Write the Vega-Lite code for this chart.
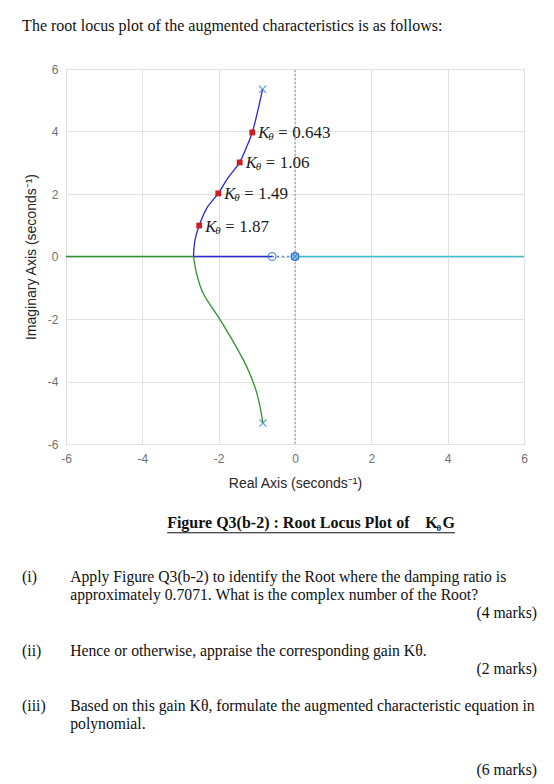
{
  "$schema": "https://vega.github.io/schema/vega-lite/v6.json",
  "width": 458,
  "height": 375,
  "autosize": {"type": "none"},
  "padding": {"left": 66, "top": 69, "right": 30, "bottom": 340},
  "background": "white",
  "config": {
    "view": {"stroke": "#7a7a7a", "strokeWidth": 1},
    "axis": {
      "labelFont": "Liberation Sans",
      "labelFontSize": 12,
      "labelColor": "#707070",
      "titleFont": "Liberation Sans",
      "titleFontSize": 14,
      "titleFontWeight": "normal",
      "titleColor": "#262626",
      "gridColor": "#e2e2e2",
      "gridOpacity": 1,
      "domain": false,
      "ticks": false,
      "labelExpr": "replace(datum.label, '−', '-')"
    }
  },
  "datasets": {
    "locus": [
      {"b": "blue", "seg": "b1", "o": 1, "x": -0.85, "y": 5.35},
      {"b": "blue", "seg": "b1", "o": 2, "x": -0.97, "y": 4.69},
      {"b": "blue", "seg": "b1", "o": 3, "x": -1.12, "y": 3.97},
      {"b": "blue", "seg": "b1", "o": 4, "x": -1.27, "y": 3.5},
      {"b": "blue", "seg": "b1", "o": 5, "x": -1.45, "y": 3.01},
      {"b": "blue", "seg": "b1", "o": 6, "x": -1.76, "y": 2.51},
      {"b": "blue", "seg": "b1", "o": 7, "x": -2.01, "y": 2.02},
      {"b": "blue", "seg": "b1", "o": 8, "x": -2.31, "y": 1.55},
      {"b": "blue", "seg": "b1", "o": 9, "x": -2.51, "y": 0.99},
      {"b": "blue", "seg": "b1", "o": 10, "x": -2.62, "y": 0.53},
      {"b": "blue", "seg": "b1", "o": 11, "x": -2.66, "y": 0},
      {"b": "blue", "seg": "b2", "o": 1, "x": -2.66, "y": 0},
      {"b": "blue", "seg": "b2", "o": 2, "x": -0.6, "y": 0},
      {"b": "green", "seg": "g1", "o": 1, "x": -6, "y": 0},
      {"b": "green", "seg": "g1", "o": 2, "x": -2.66, "y": 0},
      {"b": "green", "seg": "g2", "o": 1, "x": -2.66, "y": 0},
      {"b": "green", "seg": "g2", "o": 2, "x": -2.57, "y": -0.59},
      {"b": "green", "seg": "g2", "o": 3, "x": -2.41, "y": -1.17},
      {"b": "green", "seg": "g2", "o": 4, "x": -1.96, "y": -2.03},
      {"b": "green", "seg": "g2", "o": 5, "x": -1.57, "y": -2.83},
      {"b": "green", "seg": "g2", "o": 6, "x": -1.26, "y": -3.54},
      {"b": "green", "seg": "g2", "o": 7, "x": -1.0, "y": -4.37},
      {"b": "green", "seg": "g2", "o": 8, "x": -0.84, "y": -5.33},
      {"b": "cyan", "seg": "c1", "o": 1, "x": 0, "y": 0},
      {"b": "cyan", "seg": "c1", "o": 2, "x": 6, "y": 0}
    ],
    "dotted": [
      {"x": -0.6, "y": 0},
      {"x": 0, "y": 0}
    ],
    "imag": [
      {"x": 0, "y": -6},
      {"x": 0, "y": 6}
    ],
    "ticksX": [
      {"x": -4}, {"x": -2}, {"x": 0}, {"x": 2}, {"x": 4}
    ],
    "ticksY": [
      {"y": -4}, {"y": -2}, {"y": 0}, {"y": 2}, {"y": 4}
    ],
    "poles": [
      {"x": -0.85, "y": 5.35},
      {"x": -0.84, "y": -5.33},
      {"x": 0, "y": 0}
    ],
    "zeros": [
      {"x": -0.6, "y": 0}
    ],
    "origin": [
      {"x": 0, "y": 0}
    ],
    "gains": [
      {"k": "0.643", "x": -1.12, "y": 3.97},
      {"k": "1.06", "x": -1.45, "y": 3.01},
      {"k": "1.49", "x": -2.01, "y": 2.02},
      {"k": "1.87", "x": -2.51, "y": 0.99}
    ],
    "header": [
      {"t": "The root locus plot of the augmented characteristics is as follows:", "x": -7.15, "y": 7.22}
    ],
    "caption": [
      {"t": "Figure Q3(b-2) : Root Locus Plot of", "x": -3.35, "y": -8.69}
    ],
    "captionK": [
      {"t": "K", "x": 3.41, "y": -8.69}
    ],
    "captionSub": [
      {"t": "θ", "x": 3.71, "y": -8.69}
    ],
    "captionEnd": [
      {"t": "G", "x": 4.19, "y": -8.69}
    ],
    "underline": [
      {"x": -3.35, "x2": 4.19, "y": -8.84}
    ],
    "body": [
      {"t": "(i)", "x": -7.15, "y": -10.42},
      {"t": "Apply Figure Q3(b-2) to identify the Root where the damping ratio is", "x": -5.89, "y": -10.42},
      {"t": "approximately 0.7071. What is the complex number of the Root?", "x": -5.89, "y": -10.99},
      {"t": "(ii)", "x": -7.15, "y": -12.78},
      {"t": "Hence or otherwise, appraise the corresponding gain Kθ.", "x": -5.89, "y": -12.78},
      {"t": "(iii)", "x": -7.15, "y": -14.54},
      {"t": "Based on this gain Kθ, formulate the augmented characteristic equation in", "x": -5.89, "y": -14.54},
      {"t": "polynomial.", "x": -5.89, "y": -15.12}
    ],
    "marks": [
      {"t": "(4 marks)", "x": 6.34, "y": -11.57},
      {"t": "(2 marks)", "x": 6.34, "y": -13.36},
      {"t": "(6 marks)", "x": 6.34, "y": -16.6}
    ]
  },
  "encoding": {
    "x": {
      "field": "x",
      "type": "quantitative",
      "scale": {"domain": [-6, 6], "nice": false, "zero": false},
      "axis": {"values": [-6, -4, -2, 0, 2, 4, 6], "title": "Real Axis (seconds⁻¹)", "labelPadding": 9, "titlePadding": 12, "labelFlush": false}
    },
    "y": {
      "field": "y",
      "type": "quantitative",
      "scale": {"domain": [-6, 6], "nice": false, "zero": false},
      "axis": {"values": [-6, -4, -2, 0, 2, 4, 6], "title": "Imaginary Axis (seconds⁻¹)", "labelPadding": 8, "titlePadding": 9, "labelFlush": false}
    }
  },
  "layer": [
    {
      "data": {"name": "imag"},
      "mark": {"type": "line", "color": "#8c8c8c", "strokeDash": [2, 2], "strokeWidth": 1},
      "encoding": {}
    },
    {
      "data": {"name": "ticksX"},
      "mark": {"type": "rule", "color": "#7a7a7a", "strokeWidth": 1},
      "encoding": {"y": {"datum": -6, "type": "quantitative"}, "y2": {"datum": -5.85}}
    },
    {
      "data": {"name": "ticksX"},
      "mark": {"type": "rule", "color": "#7a7a7a", "strokeWidth": 1},
      "encoding": {"y": {"datum": 6, "type": "quantitative"}, "y2": {"datum": 5.85}}
    },
    {
      "data": {"name": "ticksY"},
      "mark": {"type": "rule", "color": "#7a7a7a", "strokeWidth": 1},
      "encoding": {"x": {"datum": -6, "type": "quantitative"}, "x2": {"datum": -5.875}}
    },
    {
      "data": {"name": "ticksY"},
      "mark": {"type": "rule", "color": "#7a7a7a", "strokeWidth": 1},
      "encoding": {"x": {"datum": 6, "type": "quantitative"}, "x2": {"datum": 5.875}}
    },
    {
      "data": {"name": "locus"},
      "mark": {"type": "line", "strokeWidth": 1.3, "interpolate": "catmull-rom"},
      "encoding": {
        "color": {"field": "b", "type": "nominal", "scale": {"domain": ["blue", "green", "cyan"], "range": ["#2a2ad2", "#2f922f", "#3ec3cc"]}, "legend": null},
        "detail": {"field": "seg"},
        "order": {"field": "o", "type": "quantitative"}
      }
    },
    {
      "data": {"name": "dotted"},
      "mark": {"type": "line", "color": "#4f86cf", "strokeDash": [2, 3], "strokeWidth": 1.3},
      "encoding": {}
    },
    {
      "data": {"name": "zeros"},
      "mark": {"type": "point", "shape": "circle", "filled": false, "size": 60, "stroke": "#2f68c4", "strokeWidth": 1.3}
    },
    {
      "data": {"name": "origin"},
      "mark": {"type": "point", "shape": "circle", "filled": true, "size": 60, "fill": "#8fcbe6", "stroke": "#2f68c4", "strokeWidth": 1.3, "opacity": 1}
    },
    {
      "data": {"name": "poles"},
      "mark": {"type": "point", "shape": "M -1 -1 L 1 1 M -1 1 L 1 -1", "filled": false, "size": 50, "stroke": "#2f7fc0", "strokeWidth": 1.3}
    },
    {
      "data": {"name": "gains"},
      "mark": {"type": "point", "shape": "square", "filled": true, "size": 34, "color": "#c81e24", "opacity": 1}
    },
    {
      "data": {"name": "gains"},
      "mark": {"type": "text", "text": "K", "font": "Liberation Serif", "fontStyle": "italic", "fontSize": 16.5, "align": "left", "baseline": "middle", "dx": 6, "dy": 1, "color": "#1a1a1a"}
    },
    {
      "data": {"name": "gains"},
      "mark": {"type": "text", "text": "θ", "font": "Liberation Serif", "fontStyle": "italic", "fontSize": 11, "align": "left", "baseline": "middle", "dx": 16, "dy": 5, "color": "#1a1a1a"}
    },
    {
      "data": {"name": "gains"},
      "mark": {"type": "text", "text": "=", "font": "Liberation Serif", "fontSize": 16.5, "align": "left", "baseline": "middle", "dx": 26, "dy": 1, "color": "#1a1a1a"}
    },
    {
      "data": {"name": "gains"},
      "mark": {"type": "text", "font": "Liberation Serif", "fontSize": 17, "align": "left", "baseline": "middle", "dx": 40, "dy": 1, "color": "#1a1a1a"},
      "encoding": {"text": {"field": "k"}}
    },
    {
      "data": {"name": "header"},
      "mark": {"type": "text", "font": "Liberation Serif", "fontSize": 16, "align": "left", "baseline": "alphabetic", "color": "#111"},
      "encoding": {"text": {"field": "t"}}
    },
    {
      "data": {"name": "caption"},
      "mark": {"type": "text", "font": "Liberation Serif", "fontSize": 16, "fontWeight": "bold", "align": "left", "baseline": "alphabetic", "color": "#111"},
      "encoding": {"text": {"field": "t"}}
    },
    {
      "data": {"name": "captionK"},
      "mark": {"type": "text", "font": "Liberation Serif", "fontSize": 16, "fontWeight": "bold", "align": "left", "baseline": "alphabetic", "color": "#111"},
      "encoding": {"text": {"field": "t"}}
    },
    {
      "data": {"name": "captionSub"},
      "mark": {"type": "text", "font": "Liberation Serif", "fontSize": 9, "fontWeight": "bold", "align": "left", "baseline": "alphabetic", "dy": 3, "color": "#111"},
      "encoding": {"text": {"field": "t"}}
    },
    {
      "data": {"name": "captionEnd"},
      "mark": {"type": "text", "font": "Liberation Serif", "fontSize": 16, "fontWeight": "bold", "align": "right", "baseline": "alphabetic", "color": "#111"},
      "encoding": {"text": {"field": "t"}}
    },
    {
      "data": {"name": "underline"},
      "mark": {"type": "rule", "color": "#111", "strokeWidth": 1},
      "encoding": {"x2": {"field": "x2"}}
    },
    {
      "data": {"name": "body"},
      "mark": {"type": "text", "font": "Liberation Serif", "fontSize": 15.7, "align": "left", "baseline": "alphabetic", "color": "#111"},
      "encoding": {"text": {"field": "t"}}
    },
    {
      "data": {"name": "marks"},
      "mark": {"type": "text", "font": "Liberation Serif", "fontSize": 15.7, "align": "right", "baseline": "alphabetic", "color": "#111"},
      "encoding": {"text": {"field": "t"}}
    }
  ]
}
